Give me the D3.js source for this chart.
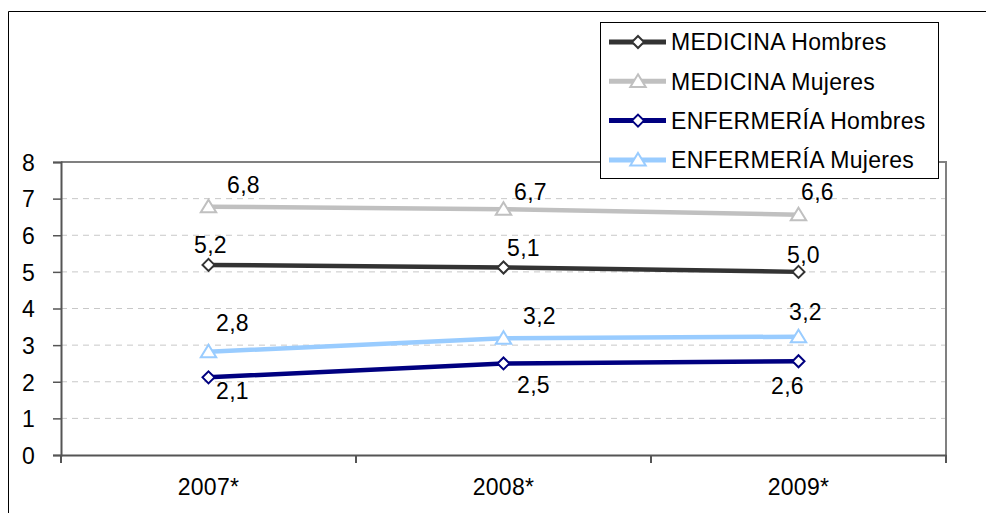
<!DOCTYPE html>
<html>
    <head>
        <meta charset="utf-8">
        <script src="https://d3js.org/d3.v7.min.js"></script>
        <style type=text/css>
            html, body {
                margin: 0;
                padding: 0;
                background: #fff;
            }
            svg {
                display: block;
                font-family: 'Liberation Sans', Arial, sans-serif;
            }
            svg text {
                font-size: 23px;
                letter-spacing: 0.3px;
                fill: #000;
            }
        </style>
    </head>
    <body>
        <svg id="chart" width="986" height="513"></svg>

        <script>
            // data
            var years = ["2007*", "2008*", "2009*"];
            var medHombres = [5.19, 5.12, 5.0];
            var medMujeres = [6.78, 6.71, 6.56];
            var enfHombres = [2.12, 2.5, 2.56];
            var enfMujeres = [2.82, 3.19, 3.23];
            var yTicks = [0, 1, 2, 3, 4, 5, 6, 7, 8];

            var series = [
                {name: "MEDICINA Hombres", values: medHombres, color: "#333333", marker: "diamond"},
                {name: "MEDICINA Mujeres", values: medMujeres, color: "#c0c0c0", marker: "triangle"},
                {name: "ENFERMERÍA Hombres", values: enfHombres, color: "#000080", marker: "diamond"},
                {name: "ENFERMERÍA Mujeres", values: enfMujeres, color: "#99ccff", marker: "triangle"}
            ];

            // where each data label sits relative to its point (dx, dy)
            var labelNudge = [
                [[2, -20], [20, -20], [5, -17]],
                [[35, -22], [27, -18], [19, -23]],
                [[24, 13], [30, 21], [-11, 24]],
                [[24, -29], [36, -22], [7, -25]]
            ];

            var fmt = d3.formatLocale({decimal: ",", thousands: ".", grouping: [3], currency: ["", "€"]}).format(".1f");

            var svg = d3.select("#chart");
            var plotLeft = 61, plotRight = 946, plotTop = 162, plotBottom = 455;

            var x = d3.scaleBand().domain(years).range([plotLeft, plotRight]);
            var y = d3.scaleLinear().domain([0, 8]).range([plotBottom, plotTop]);

            // outer chart frame (runs off the right and bottom edge)
            svg.append("path")
                .attr("d", "M8.5,520 V11.5 H990")
                .attr("fill", "none")
                .attr("stroke", "#000")
                .attr("stroke-width", 1);

            // gridlines
            svg.append("g")
                .selectAll("line")
                .data(yTicks.filter(function(d){ return d > 0 && d < 8; }))
                .enter()
                .append("line")
                .attr("x1", plotLeft).attr("x2", plotRight)
                .attr("y1", function(d){ return y(d); })
                .attr("y2", function(d){ return y(d); })
                .attr("stroke", "#c8c8c8")
                .attr("stroke-width", 1)
                .attr("stroke-dasharray", "6,5");

            // plot area border top and right
            svg.append("path")
                .attr("d", "M" + plotLeft + "," + plotTop + " H" + plotRight + " V" + plotBottom)
                .attr("fill", "none")
                .attr("stroke", "#808080")
                .attr("stroke-width", 2);

            // y axis
            var yAxis = svg.append("g")
                .attr("transform", "translate(" + plotLeft + ",0)")
                .call(d3.axisLeft(y).tickValues(yTicks).tickSize(8).tickPadding(18));

            // x axis, ticks on band boundaries
            var xAxis = svg.append("g")
                .attr("transform", "translate(0," + plotBottom + ")")
                .call(d3.axisBottom(x).tickSize(0).tickPadding(24));

            xAxis.selectAll(".xb")
                .data([plotLeft].concat(years.map(function(d){ return x(d) + x.bandwidth(); })))
                .enter()
                .append("line")
                .attr("class", "xb")
                .attr("x1", function(d){ return d; })
                .attr("x2", function(d){ return d; })
                .attr("y1", 0).attr("y2", 8)
                .attr("stroke", "#555")
                .attr("stroke-width", 2);

            [yAxis, xAxis].forEach(function(a){
                a.attr("font-size", null).attr("font-family", null);
                a.select(".domain").attr("stroke", "#555").attr("stroke-width", 2);
                a.selectAll(".tick line").attr("stroke", "#555").attr("stroke-width", 1.5);
                a.selectAll("text").attr("fill", "#000");
            });
            yAxis.selectAll(".tick text").attr("dy", "0.36em");

            function markerPath(type, s) {
                if (type === "diamond") {
                    return "M0," + (-s) + " L" + s + ",0 L0," + s + " L" + (-s) + ",0 Z";
                }
                return "M0," + (-s) + " L" + (s * 1.1) + "," + (s * 0.8) + " L" + (-s * 1.1) + "," + (s * 0.8) + " Z";
            }

            var line = d3.line()
                .x(function(d, i){ return x(years[i]) + x.bandwidth() / 2; })
                .y(function(d){ return y(d); });

            series.forEach(function(s, si){
                var g = svg.append("g");

                g.append("path")
                    .datum(s.values)
                    .attr("d", line)
                    .attr("fill", "none")
                    .attr("stroke", s.color)
                    .attr("stroke-width", 4.5);

                g.selectAll(".m")
                    .data(s.values)
                    .enter()
                    .append("path")
                    .attr("class", "m")
                    .attr("transform", function(d, i){
                        return "translate(" + (x(years[i]) + x.bandwidth() / 2) + "," + y(d) + ")";
                    })
                    .attr("d", markerPath(s.marker, s.marker === "diamond" ? 6 : 7))
                    .attr("fill", "#fff")
                    .attr("stroke", s.color)
                    .attr("stroke-width", 2);

                g.selectAll(".lbl")
                    .data(s.values)
                    .enter()
                    .append("text")
                    .attr("class", "lbl")
                    .attr("x", function(d, i){ return x(years[i]) + x.bandwidth() / 2 + labelNudge[si][i][0]; })
                    .attr("y", function(d, i){ return y(d) + labelNudge[si][i][1]; })
                    .attr("dy", "0.36em")
                    .attr("text-anchor", "middle")
                    .text(function(d){ return fmt(d); });
            });

            // legend
            var legend = svg.append("g");
            legend.append("rect")
                .attr("x", 600.5).attr("y", 22.5)
                .attr("width", 338).attr("height", 156)
                .attr("fill", "#fff")
                .attr("stroke", "#000")
                .attr("stroke-width", 1);

            var item = legend.selectAll(".item")
                .data(series)
                .enter()
                .append("g")
                .attr("class", "item")
                .attr("transform", function(d, i){ return "translate(0," + (42 + i * 39.3) + ")"; });

            item.append("line")
                .attr("x1", 609).attr("x2", 666)
                .attr("stroke", function(d){ return d.color; })
                .attr("stroke-width", 5);

            item.append("path")
                .attr("transform", "translate(638,0)")
                .attr("d", function(d){ return markerPath(d.marker, d.marker === "diamond" ? 6 : 7); })
                .attr("fill", "#fff")
                .attr("stroke", function(d){ return d.color; })
                .attr("stroke-width", 2);

            item.append("text")
                .attr("x", 671)
                .attr("dy", "0.36em")
                .text(function(d){ return d.name; });
        </script>
    </body>
</html>
